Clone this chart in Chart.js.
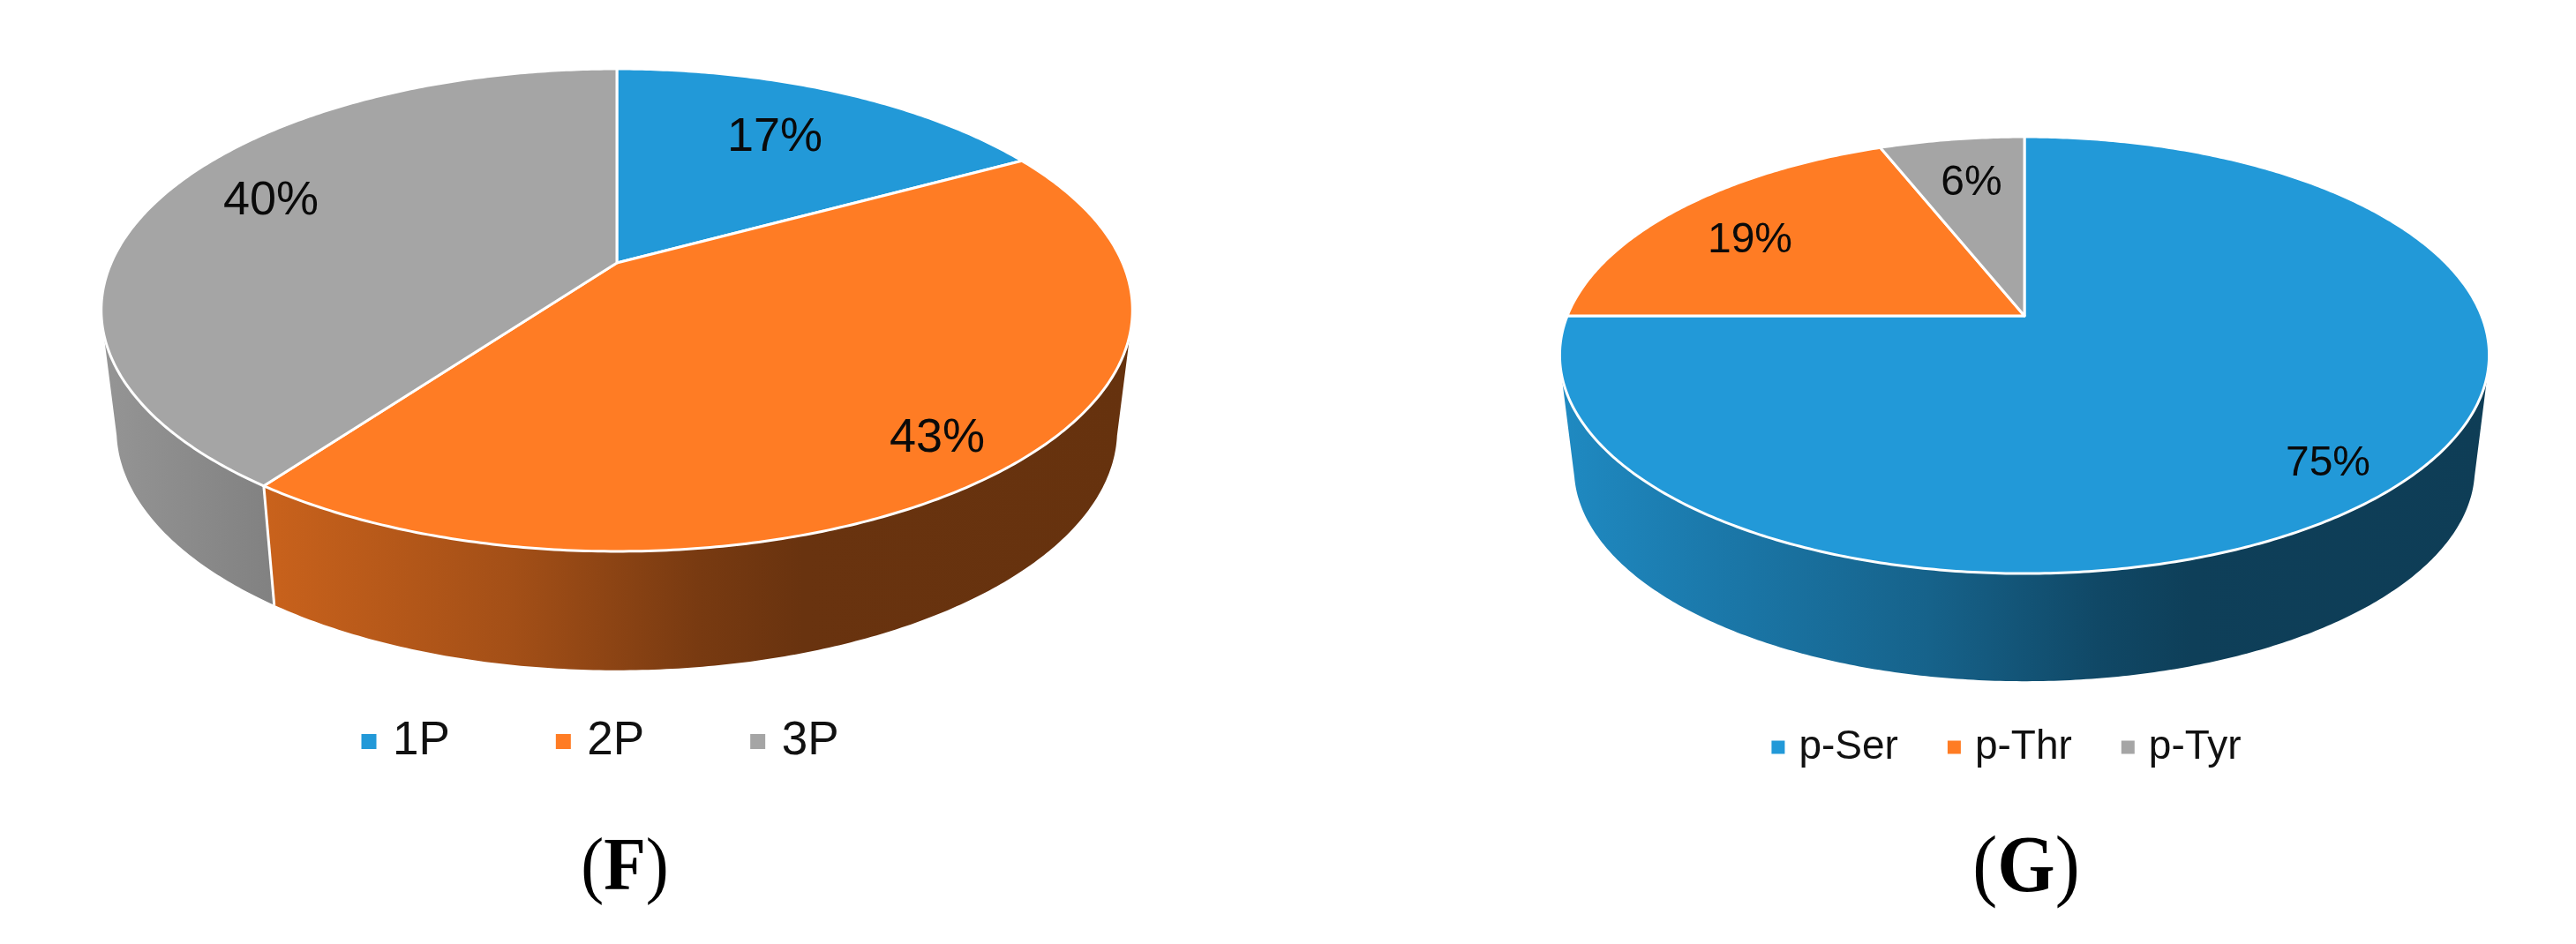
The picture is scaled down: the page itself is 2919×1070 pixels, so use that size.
<!DOCTYPE html>
<html>
<head>
<meta charset="utf-8">
<title>Phosphorylation pies</title>
<script src="https://cdn.jsdelivr.net/npm/chart.js@4"></script>
<style>
    html, body { margin: 0; padding: 0; background: #fff; }
    #page { position: relative; width: 2919px; height: 1070px; overflow: hidden; }
    canvas { position: absolute; left: 0; top: 0; filter: blur(0.6px); }
    .caption {
        position: absolute; width: 300px; text-align: center; line-height: 100px;
        font-family: "Liberation Serif", serif; color: #000;
        transform: scaleY(1.08);
    }
    .caption b { font-weight: 700; }
</style>
</head>
<body>
<div id="page">
    <canvas id="chartF" width="2919" height="1070"></canvas>
    <canvas id="chartG" width="2919" height="1070"></canvas>
    <div class="caption" style="left:558px;top:930px;font-size:78px">(<b>F</b>)</div>
    <div class="caption" style="left:2146px;top:930px;font-size:84px">(<b>G</b>)</div>
</div>
<script>
const fLabels = ['1P', '2P', '3P'];
const fValues = [17, 43, 40];
const gLabels = ['p-Ser', 'p-Thr', 'p-Tyr'];
const gValues = [75, 19, 6];
const sliceColors = ['#2299d8', '#ff7c24', '#a5a5a5'];

// brightness of the side wall, left to right across the pie
const wallShade = [[0, 0.9], [0.16, 0.79], [0.4, 0.64], [0.58, 0.47], [0.68, 0.41], [1, 0.4]];

function shadeColor(hex, f) {
    const n = parseInt(hex.slice(1), 16);
    const r = Math.round((n >> 16 & 255) * f);
    const g = Math.round((n >> 8 & 255) * f);
    const b = Math.round((n & 255) * f);
    return `rgb(${r},${g},${b})`;
}

// Chart.js pie is flat, so the arcs are projected onto a tilted disc here.
// A unit circle point goes through a small perspective map for top and base.
function projector(o, plane) {
    return (x, y) => {
        const w = 1 + o.k * y;
        return [o.cx + plane.c * x / w, plane.y + plane.a * y / w];
    };
}

function arcPoints(project, from, to) {
    const pts = [];
    const steps = Math.max(2, Math.ceil((to - from) / 0.01));
    for (let i = 0; i <= steps; i++) {
        const t = from + (to - from) * i / steps;
        pts.push(project(Math.cos(t), Math.sin(t)));
    }
    return pts;
}

const tiltedPie = {
    id: 'tiltedPie',
    beforeDatasetDraw(chart, args, o) {
        const ctx = chart.ctx;
        const arcs = chart.getDatasetMeta(args.index).data;
        const colors = chart.data.datasets[args.index].backgroundColor;
        const values = chart.data.datasets[args.index].data;
        const top = projector(o, o.top);
        const base = projector(o, o.base);
        const frontFrom = 0.22;
        const frontTo = Math.PI - 0.22;

        ctx.save();
        ctx.lineJoin = 'round';

        // side walls
        arcs.forEach((arc, i) => {
            const from = Math.max(arc.startAngle, frontFrom);
            const to = Math.min(arc.endAngle, frontTo);
            if (to <= from) return;
            const grad = ctx.createLinearGradient(o.cx - o.width, 0, o.cx + o.width, 0);
            wallShade.forEach(s => grad.addColorStop(s[0], shadeColor(colors[i], s[1])));
            const pts = arcPoints(top, from, to).concat(arcPoints(base, from, to).reverse());
            ctx.beginPath();
            pts.forEach((p, j) => j ? ctx.lineTo(p[0], p[1]) : ctx.moveTo(p[0], p[1]));
            ctx.closePath();
            ctx.fillStyle = grad;
            ctx.fill();
        });

        // white seam where two walls meet
        arcs.forEach(arc => {
            let t = arc.startAngle;
            if (t < frontFrom || t > frontTo) return;
            const a = top(Math.cos(t), Math.sin(t));
            const b = base(Math.cos(t), Math.sin(t));
            ctx.beginPath();
            ctx.moveTo(a[0], a[1]);
            ctx.lineTo(b[0], b[1]);
            ctx.strokeStyle = '#fff';
            ctx.lineWidth = 3;
            ctx.stroke();
        });

        // top faces
        arcs.forEach((arc, i) => {
            const hub = top(0, 0);
            ctx.beginPath();
            ctx.moveTo(hub[0], hub[1]);
            arcPoints(top, arc.startAngle, arc.endAngle).forEach(p => ctx.lineTo(p[0], p[1]));
            ctx.closePath();
            ctx.fillStyle = colors[i];
            ctx.fill();
            ctx.strokeStyle = '#fff';
            ctx.lineWidth = 3;
            ctx.stroke();
        });

        // percent labels
        ctx.fillStyle = '#0a0a0a';
        ctx.font = `${o.labelSize}px "Liberation Sans", Arial, sans-serif`;
        ctx.textAlign = 'center';
        ctx.textBaseline = 'middle';
        values.forEach((v, i) => ctx.fillText(v + '%', o.labelAt[i][0], o.labelAt[i][1]));

        ctx.restore();
        return false;
    }
};

function makePie(id, labels, values, pad, legendOpts, pie) {
    return new Chart(document.getElementById(id), {
        type: 'pie',
        data: {
            labels: labels,
            datasets: [{ data: values, backgroundColor: sliceColors, borderWidth: 0 }]
        },
        plugins: [tiltedPie],
        options: {
            responsive: false,
            animation: false,
            layout: { padding: pad },
            plugins: {
                tooltip: { enabled: false },
                legend: {
                    position: 'bottom',
                    labels: Object.assign({
                        usePointStyle: true,
                        pointStyle: 'rect',
                        boxWidth: 1,
                        color: '#111',
                    }, legendOpts)
                },
                tiltedPie: pie
            }
        }
    });
}

makePie('chartF', fLabels, fValues,
    { right: 1551, bottom: 193 },
    { boxHeight: 17, padding: 128, font: { family: '"Liberation Sans"', size: 53 } },
    {
        cx: 699, k: -0.1956, width: 585,
        top: { c: 573, a: 263, y: 298 },
        base: { c: 556, a: 262, y: 434 },
        labelSize: 54,
        labelAt: [[878, 156], [1062, 497], [307, 228]]
    });

makePie('chartG', gLabels, gValues,
    { left: 1635, bottom: 190 },
    { boxHeight: 15, padding: 63, font: { family: '"Liberation Sans"', size: 46 } },
    {
        cx: 2294, k: -0.18, width: 527,
        top: { c: 518, a: 239.5, y: 358 },
        base: { c: 502, a: 233, y: 488 },
        labelSize: 48,
        labelAt: [[2638, 526], [1983, 273], [2234, 208]]
    });
</script>
</body>
</html>
